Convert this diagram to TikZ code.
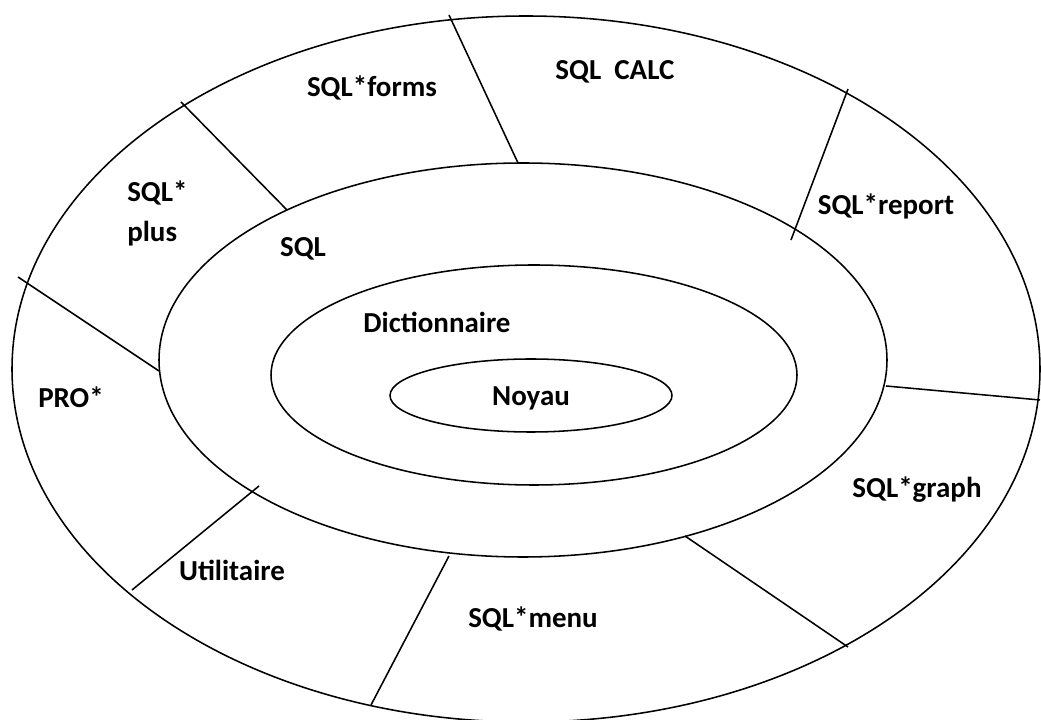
\documentclass[tikz,border=0pt]{standalone}
\usepackage{fontspec}
\setmainfont{Carlito}

\begin{document}
\begin{tikzpicture}[
		x=0.025cm, y=-0.025cm,
		ring/.style={draw, line width=1.1pt},
		split/.style={line width=1.1pt},
		lbl/.style={font=\bfseries\fontsize{20.6}{30}\selectfont, anchor=base, inner sep=0pt}
		]
	\useasboundingbox (0,0) rectangle (1041,720);

	% --- couches (de l'exterieur vers le noyau) ---
	\draw[ring] (526,369) ellipse (514 and 353);
	\draw[ring] (523,360) ellipse (364 and 197);
	\draw[ring] (534,375) ellipse (263 and 110);
	\draw[ring] (531,395.5) ellipse (141 and 36.5);

	% --- extremites des separations ---
	\coordinate (a1) at (287,210);  \coordinate (b1) at (181,102);
	\coordinate (a2) at (518,163);  \coordinate (b2) at (449,15);
	\coordinate (a3) at (791,240);  \coordinate (b3) at (848,89);
	\coordinate (a4) at (886,386);  \coordinate (b4) at (1040,400);
	\coordinate (a5) at (685,536);  \coordinate (b5) at (848,647);
	\coordinate (a6) at (449,556);  \coordinate (b6) at (371,705);
	\coordinate (a7) at (259,486);  \coordinate (b7) at (132,590);
	\coordinate (a8) at (159,371);  \coordinate (b8) at (18,277);

	% separations de l'anneau exterieur
	\foreach \i in {1,...,8}
		\draw[split] (a\i) -- (b\i);

	% --- libelles ---
	\node[lbl] (noyau) at (531,406) {Noyau};
	\node[lbl] (dico) at (437,333) {Dictionnaire};
	\node[lbl] (sql) at (303,257) {SQL};
	\node[lbl] (forms) at (372,97) {SQL*forms};
	\node[lbl] (calc) at (615,80) {SQL\ \ CALC};
	\node[lbl, anchor=base west] (plusA) at (127,202) {SQL*};
	\node[lbl, anchor=base west] (plusB) at (127,242) {plus};
	\node[lbl] (report) at (886,215) {SQL*report};
	\node[lbl] (graph) at (917,498) {SQL*graph};
	\node[lbl] (menu) at (533,628) {SQL*menu};
	\node[lbl] (util) at (232,581) {Utilitaire};
	\node[lbl] (pro) at (71,408) {PRO*};

\end{tikzpicture}
\end{document}
